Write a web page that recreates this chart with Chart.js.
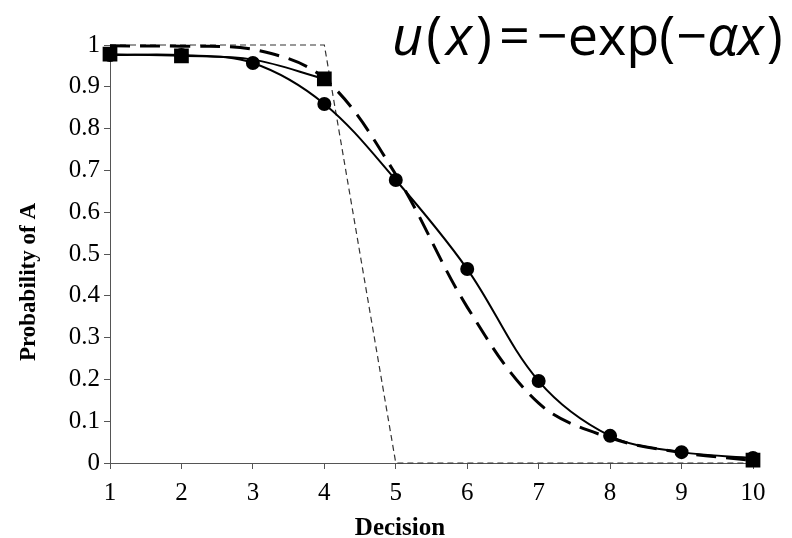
<!DOCTYPE html>
<html>
<head>
<meta charset="utf-8">
<script src="https://cdn.jsdelivr.net/npm/chart.js@4.4.0/dist/chart.umd.min.js"></script>
<style>
  html, body { margin: 0; padding: 0; background: #fff; }
  #wrap { position: relative; width: 792px; height: 538px; }
  #formula {
    position: absolute; left: 392px; top: 0px;
    font-family: "Open Sans", sans-serif; font-size: 54px; line-height: 68px;
    color: #000; white-space: nowrap;
  }
  #formula i { font-style: italic; }
</style>
</head>
<body>
<div id="wrap">
  <canvas id="grafico" width="792" height="538"></canvas>
  <div id="formula"><i>u</i><span style="margin-left:3px">(</span><i style="margin-left:4px">x</i><span style="margin-left:4px">)</span><span style="margin:0 7px">=</span>−exp(<span style="margin-left:1px">−</span><i>α</i><i>x</i><span style="margin-left:3px">)</span></div>
</div>
<script>
const decisiones = [1, 2, 3, 4, 5, 6, 7, 8, 9, 10];
const observado = [0.976, 0.976, 0.957, 0.859, 0.677, 0.464, 0.196, 0.065, 0.026, 0.012];
// la serie de cuadrados solo se ve en 1-4 y en 10
const cuadrados = [0.978, 0.974, 0.965, 0.919, null, null, null, null, null, 0.007];
const modelo = [0.998, 0.997, 0.99, 0.92, 0.69, 0.373, 0.143, 0.06, 0.025, 0.006];
const neutral = [1, 1, 1, 1, 0, 0, 0, 0, 0, 0];
const ticksY = [0, 0.1, 0.2, 0.3, 0.4, 0.5, 0.6, 0.7, 0.8, 0.9, 1];

const tituloX = "Decision";
const tituloY = "Probability of A";

// en 3 el circulo tapa al cuadrado
const radioCuadrados = [9, 9, 0, 9, 0, 0, 0, 0, 0, 9];

function puntos(valores) {
  return decisiones.map((d, i) => ({ x: d, y: valores[i] }));
}

const serif = "'Liberation Serif', 'Times New Roman', serif";

// titulos de los ejes dibujados a mano para ubicarlos como en la figura
const titulosEjes = {
  id: "titulosEjes",
  afterDraw(chart) {
    const c = chart.ctx;
    c.save();
    c.fillStyle = "#000";
    c.textAlign = "center";
    c.textBaseline = "alphabetic";
    c.font = "bold 25px " + serif;
    c.fillText(tituloX, 400, 535);
    c.translate(35, 282);
    c.rotate(-Math.PI / 2);
    c.font = "bold 23px " + serif;
    c.fillText(tituloY, 0, 0);
    c.restore();
  },
};

const ctx = document.getElementById("grafico").getContext("2d");
new Chart(ctx, {
  type: "line",
  data: {
    datasets: [
      {
        label: "Observado",
        data: puntos(observado),
        borderColor: "#000",
        backgroundColor: "#000",
        borderWidth: 2,
        pointStyle: "circle",
        pointRadius: 6,
        tension: 0.35,
        clip: false,
      },
      {
        label: "Cuadrados",
        data: puntos(cuadrados),
        borderColor: "#000",
        backgroundColor: "#000",
        borderWidth: 2,
        pointStyle: "rect",
        pointRadius: radioCuadrados,
        tension: 0.35,
        spanGaps: false,
        clip: false,
      },
      {
        label: "Modelo",
        data: puntos(modelo),
        borderColor: "#000",
        borderWidth: 3,
        borderDash: [20, 10],
        pointRadius: 0,
        tension: 0.35,
        clip: false,
      },
      {
        label: "Neutral",
        data: puntos(neutral),
        borderColor: "#333",
        borderWidth: 1.2,
        borderDash: [6, 4],
        pointRadius: 0,
        tension: 0,
        clip: false,
      },
    ],
  },
  options: {
    responsive: false,
    animation: false,
    events: [],
    layout: { padding: { top: 45, right: 39, left: 0, bottom: 0 } },
    plugins: {
      legend: { display: false },
      tooltip: { enabled: false },
    },
    scales: {
      x: {
        type: "linear",
        min: 1,
        max: 10,
        afterFit: (scale) => { scale.height = 75; },
        afterBuildTicks: (scale) => {
          scale.ticks = decisiones.map((v) => ({ value: v }));
        },
        border: { color: "#555", width: 1 },
        grid: { drawOnChartArea: false, tickLength: 6, color: "#555" },
        ticks: {
          color: "#000",
          padding: 9,
          maxRotation: 0,
          font: { family: serif, size: 25 },
          callback: (v) => String(v),
        },
      },
      y: {
        min: 0,
        max: 1,
        afterFit: (scale) => { scale.width = 110; },
        afterBuildTicks: (scale) => {
          scale.ticks = ticksY.map((v) => ({ value: v }));
        },
        border: { color: "#555", width: 1 },
        grid: { drawOnChartArea: false, tickLength: 6, color: "#555" },
        ticks: {
          color: "#000",
          padding: 4,
          font: { family: serif, size: 25 },
          callback: (v) => (v === 0 || v === 1 ? String(v) : v.toFixed(1)),
        },
      },
    },
  },
  plugins: [titulosEjes],
});
</script>
</body>
</html>
